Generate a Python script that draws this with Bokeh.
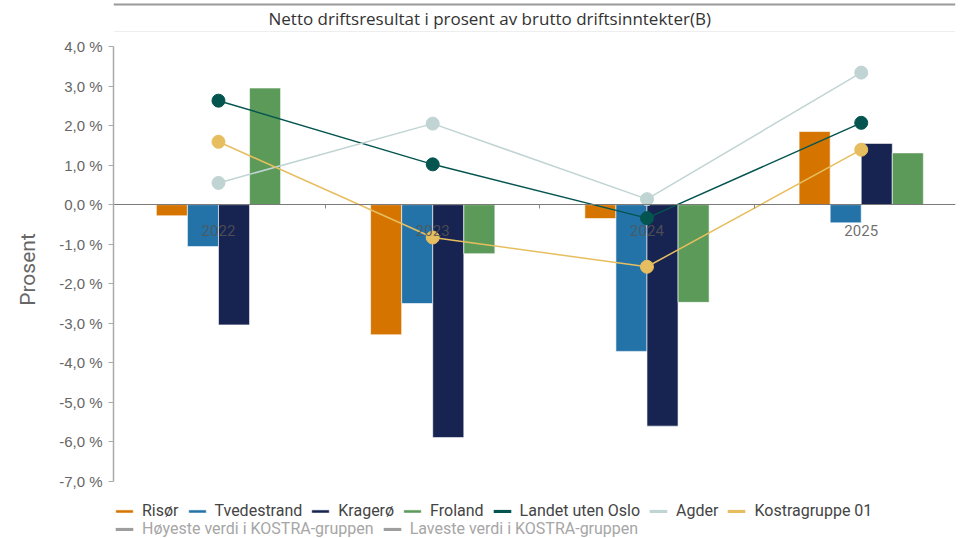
from bokeh.plotting import figure
from bokeh.models import (ColumnDataSource, Range1d, FixedTicker, Legend, LegendItem, Label, Span)
from bokeh.transform import dodge
from bokeh.embed import file_html
from bokeh.resources import INLINE

# ---- data ----
years = ["2022", "2023", "2024", "2025"]
risor = [-0.28, -3.29, -0.35, 1.85]
tvedestrand = [-1.06, -2.50, -3.71, -0.46]
kragero = [-3.04, -5.89, -5.60, 1.55]
froland = [2.95, -1.24, -2.47, 1.31]
landet_uten_oslo = [2.63, 1.02, -0.34, 2.07]
agder = [0.55, 2.05, 0.14, 3.34]
kostragruppe_01 = [1.59, -0.83, -1.57, 1.39]
y_ticks = [-7, -6, -5, -4, -3, -2, -1, 0, 1, 2, 3, 4]
title_text = "Netto driftsresultat i prosent av brutto driftsinntekter(B)"

bar_series = [("Risør", risor, "#D57500"),
              ("Tvedestrand", tvedestrand, "#2473A8"),
              ("Kragerø", kragero, "#172350"),
              ("Froland", froland, "#5C9A5A")]
line_series = [("Landet uten Oslo", landet_uten_oslo, "#045550"),
               ("Agder", agder, "#C0D4D3"),
               ("Kostragruppe 01", kostragruppe_01, "#E7BE5F")]
extra_series = [("Høyeste verdi i KOSTRA-gruppen", "#9E9E9E"),
                ("Laveste verdi i KOSTRA-gruppen", "#9E9E9E")]

# ---- layout (pixels) ----
H = 538                   # frame spans the whole page height
AX_TOP, AX_BOT = 46, 481  # pixel rows of the 4 % and -7 % ticks
ymin, ymax = min(y_ticks), max(y_ticks)
k = (AX_BOT - AX_TOP) / (ymax - ymin)      # pixels per percent
y_lo = ymin - (H - AX_BOT) / k
y_hi = ymax + AX_TOP / k

xs = list(range(len(years)))
src = ColumnDataSource(dict(x=xs, **{name: vals for name, vals, _ in bar_series + line_series}))

p = figure(output_backend="svg", toolbar_location=None,
           x_range=Range1d(-0.49, 3.44), y_range=Range1d(y_lo, y_hi),
           frame_width=842, frame_height=H,
           min_border_left=113, min_border_right=3, min_border_top=0, min_border_bottom=0,
           background_fill_color="white", border_fill_color="white")
p.outline_line_color = None
p.grid.visible = False

# top rule lines of the page
p.add_layout(Span(location=ymax + (AX_TOP - 4) / k, dimension="width",
                  line_color="#9a9a9a", line_width=2))
p.add_layout(Span(location=ymax + (AX_TOP - 31) / k, dimension="width",
                  line_color="#eeeeee", line_width=1))

p.add_layout(Label(x=155, y=H - 18, x_units="screen", y_units="screen",
                   text=title_text, text_font="Open Sans", text_font_size="17px",
                   text_color="#333333", text_align="left", text_baseline="middle"))

bw = 0.145
offsets = [-1.5 * bw, -0.5 * bw, 0.5 * bw, 1.5 * bw]
bar_renderers = []
for (name, vals, col), off in zip(bar_series, offsets):
    r = p.vbar(x=dodge("x", off), top=name, bottom=0, width=bw, source=src,
               fill_color=col, line_color="white", line_alpha=0.6, line_width=1)
    bar_renderers.append((name, r))

for name, vals, col in line_series:
    p.line(x="x", y=name, source=src, line_color=col, line_width=1.5)
    p.scatter(x="x", y=name, source=src, size=13, fill_color=col, line_color=col)

# legend-only stubs (no visible mark; they give the thick-line legend swatch)
nan = float("nan")
legend_only = []
for name, vals, col in line_series:
    r = p.vbar(x=[nan], top=[nan], width=0.1, fill_color=col, line_color=None)
    legend_only.append((name, r))
extra_r = []
for name, col in extra_series:
    r = p.vbar(x=[nan], top=[nan], width=0.1, fill_color=col, line_color=None)
    extra_r.append((name, r))

# axes
xa = p.xaxis[0]
xa.fixed_location = 0
xa.ticker = FixedTicker(ticks=xs, minor_ticks=[0.5, 1.5, 2.5])
xa.major_label_overrides = {i: y for i, y in zip(xs, years)}
xa.axis_line_color = "#7a7a7a"
xa.major_tick_line_color = None
xa.minor_tick_line_color = "#888888"
xa.minor_tick_in = 0
xa.minor_tick_out = 4
xa.major_label_text_font = "Roboto"
xa.major_label_text_font_size = "15px"
xa.major_label_text_color = "#555555"
xa.major_label_text_alpha = 0.85
xa.major_label_standoff = 14

ya = p.yaxis[0]
ya.bounds = (ymin, ymax)
ya.ticker = FixedTicker(ticks=y_ticks)
ya.major_label_overrides = {v: (f"{v:.1f} %").replace(".", ",") for v in y_ticks}
ya.axis_line_color = "#aaaaaa"
ya.axis_line_width = 1.5
ya.major_tick_line_color = "#aaaaaa"
ya.major_tick_in = 0
ya.major_tick_out = 5
ya.minor_tick_line_color = None
ya.major_label_text_font = "Liberation Sans"
ya.major_label_text_font_size = "15px"
ya.major_label_text_color = "#666666"
ya.major_label_standoff = 6
ya.axis_label = "Prosent"
ya.axis_label_text_font = "Roboto"
ya.axis_label_text_font_size = "21px"
ya.axis_label_text_font_style = "normal"
ya.axis_label_text_color = "#666666"
ya.axis_label_standoff = 16

def make_legend(items, color, loc):
    lg = Legend(items=[LegendItem(label=n, renderers=[r]) for n, r in items],
                orientation="horizontal", location=loc,
                label_text_font="Roboto", label_text_font_size="16px",
                label_text_color=color, label_height=16, label_standoff=7,
                glyph_width=22, glyph_height=4, spacing=7, padding=0, margin=0,
                border_line_color=None, background_fill_alpha=0)
    p.add_layout(lg, "center")
    return lg

make_legend(bar_renderers + legend_only, "#444444", (0, H - 520))
make_legend(extra_r, "#A6A6A6", (0, H - 538))

open("out.html", "w").write(file_html(p, INLINE))
